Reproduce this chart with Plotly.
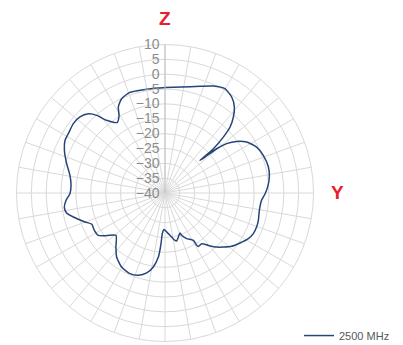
import plotly.graph_objects as go

# angle in degrees (clockwise from Z at top), gain in dB
angles = [0, 8.9, 18.2, 24.3, 29.9, 34.8, 38.9, 42.0, 44.6, 46.2, 47.5, 47.0,
          48.0, 49.4, 51.3, 54.2, 58.0, 63.4, 69.0, 75.9, 81.3, 86.7, 90.4,
          94.3, 100.4, 106.3, 110.4, 114.7, 118.7, 123.7, 128.7, 132.8, 136.3,
          140.4, 144.1, 148.0, 148.8, 149.1, 154.6, 158.5, 159.4, 163.1, 166.3,
          168.1, 171.4, 177.6, 181.6, 183.8, 184.5, 185.9, 189.0, 192.9, 197.9,
          203.5, 210.4, 217.1, 222.2, 229.2, 233.8, 237.6, 242.2, 246.9, 250.1,
          255.3, 258.5, 261.7, 265.8, 269.6, 274.7, 280.5, 286.6, 293.0, 297.8,
          301.5, 307.1, 311.8, 315.9, 318.7, 321.2, 326.0, 329.4, 331.5, 335.3,
          340.8, 348.2, 355.5, 360]
gain = [-4.5, -3.9, -2.2, -0.5, 0.5, -0.65, -2.8, -5.6, -8.8, -12.8, -17.9, -23.9,
        -21.9, -17.1, -13.4, -10.3, -7.6, -5.5, -4.55, -4.1, -4.45, -5.4, -6.3,
        -7.4, -7.7, -7.25, -7.1, -7.26, -8.0, -9.65, -11.3, -13.2, -14.8,
        -17.1, -18.9, -18.8, -19.4, -21.4, -23.0, -24.7, -25.6, -24.5, -23.4,
        -23.7, -25.0, -26.9, -27.7, -26.3, -22.9, -18.3, -14.8, -12.4, -10.9,
        -10.4, -11.1, -13.0, -15.4, -18.2, -15.7, -13.4, -13.1, -13.2, -11.35,
        -8.1, -6.2, -5.75, -6.6, -8.0, -8.25, -7.45, -5.45, -3.2, -1.95,
        -1.8, -1.3, -1.6, -2.9, -5.2, -8.6, -11.3, -9.6, -7.05, -5.05,
        -4.1, -4.45, -4.5, -4.5]

r_ticks = list(range(-40, 11, 5))

# page body has an 8px margin, so the figure is sized to fit what's left
W, H = 395, 337

fig = go.Figure()
fig.add_trace(go.Scatterpolar(r=gain, theta=angles, mode='lines', name='2500 MHz',
                              line=dict(color='#264478', width=1.5, shape='spline', smoothing=0.6)))

fig.update_layout(
    width=W, height=H,
    margin=dict(l=0, r=0, t=0, b=0, autoexpand=False),
    paper_bgcolor='white',
    font=dict(family='Liberation Sans, Arial', color='#8c8c8c'),
    polar=dict(
        domain=dict(x=[8.5 / W, 305.5 / W], y=[1 - 333.5 / H, 1 - 36.5 / H]),
        bgcolor='white',
        angularaxis=dict(direction='clockwise', rotation=90, dtick=10,
                         showticklabels=False, ticks='',
                         gridcolor='#d9d9d9', gridwidth=1,
                         linecolor='#d9d9d9', linewidth=1),
        radialaxis=dict(range=[-40, 10], tickvals=r_ticks, angle=90, tickangle=90,
                        side='counterclockwise',
                        tickfont=dict(size=14, color='#8c8c8c'),
                        gridcolor='#d9d9d9', gridwidth=1,
                        showline=True, linecolor='#bfbfbf', ticks=''),
    ),
    showlegend=True,
    legend=dict(x=291 / W, y=-0.015, xanchor='left', yanchor='bottom',
                font=dict(size=11, color='#595959'), bgcolor='rgba(0,0,0,0)'),
)

fig.add_annotation(text='<b>Z</b>', x=157 / W, y=1 - 10.5 / H, xref='paper', yref='paper',
                   xanchor='center', yanchor='middle',
                   showarrow=False, font=dict(size=19, color='#e8202a'))
fig.add_annotation(text='<b>Y</b>', x=329 / W, y=1 - 184.5 / H, xref='paper', yref='paper',
                   xanchor='center', yanchor='middle',
                   showarrow=False, font=dict(size=19, color='#e8202a'))

fig.write_html("out.html")
